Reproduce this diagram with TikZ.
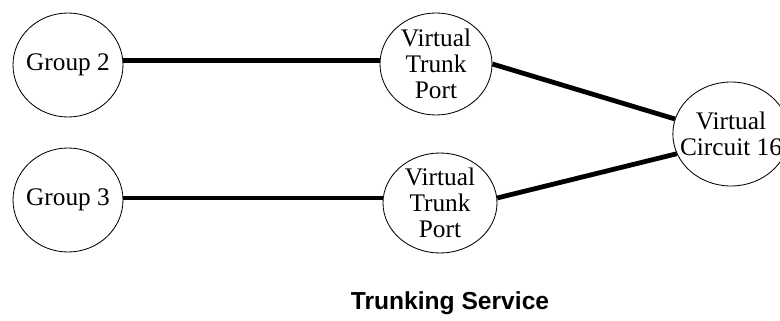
\documentclass[tikz,border=0pt]{standalone}
\usepackage{fontspec}
\setmainfont{Liberation Serif}
\setsansfont{Liberation Sans}
\usetikzlibrary{shapes.geometric}

\tikzset{
    knoten/.style={draw, ellipse, line width=0.6pt, inner sep=-7pt,
        minimum width=2.75cm, minimum height=2.6cm, align=center,
        font=\fontsize{18}{18.5}\selectfont},
    leitung/.style={line width=3.4pt}
}

\begin{document}
\begin{tikzpicture}
        % Rahmen
        \useasboundingbox (0,0) rectangle (19.5,8.025);

        % Gruppen
        \node[knoten] (g2) at (1.7,6.4) {Group 2};
        \node[knoten] (g3) at (1.7,3.025) {Group 3};

        % Virtual Trunk Ports
        \node[knoten, minimum width=2.8cm, minimum height=2.55cm] (vtp1) at (10.9,6.425) {Virtual\\Trunk\\Port};
        \node[knoten, minimum width=2.85cm, minimum height=2.5cm] (vtp2) at (11.0,2.95) {Virtual\\Trunk\\Port};

        % Virtual Circuit
        \node[knoten] (vc) at (18.275,4.675) {Virtual\\Circuit 16};

        % Verbindungen
        \draw[leitung] (g2.5) -- (g2.5 -| vtp1.west);
        \draw[leitung] (g3.2) -- (g3.2 -| vtp2.west);
        \draw[leitung] (vtp1.east) -- (vc.165);
        \draw[leitung] (vtp2.5) -- (vc.200);

        % Titel
        \node[anchor=base, font=\sffamily\bfseries\fontsize{17.5}{18}\selectfont] (titel) at (11.25,0.275) {Trunking Service};
    \end{tikzpicture}
\end{document}
